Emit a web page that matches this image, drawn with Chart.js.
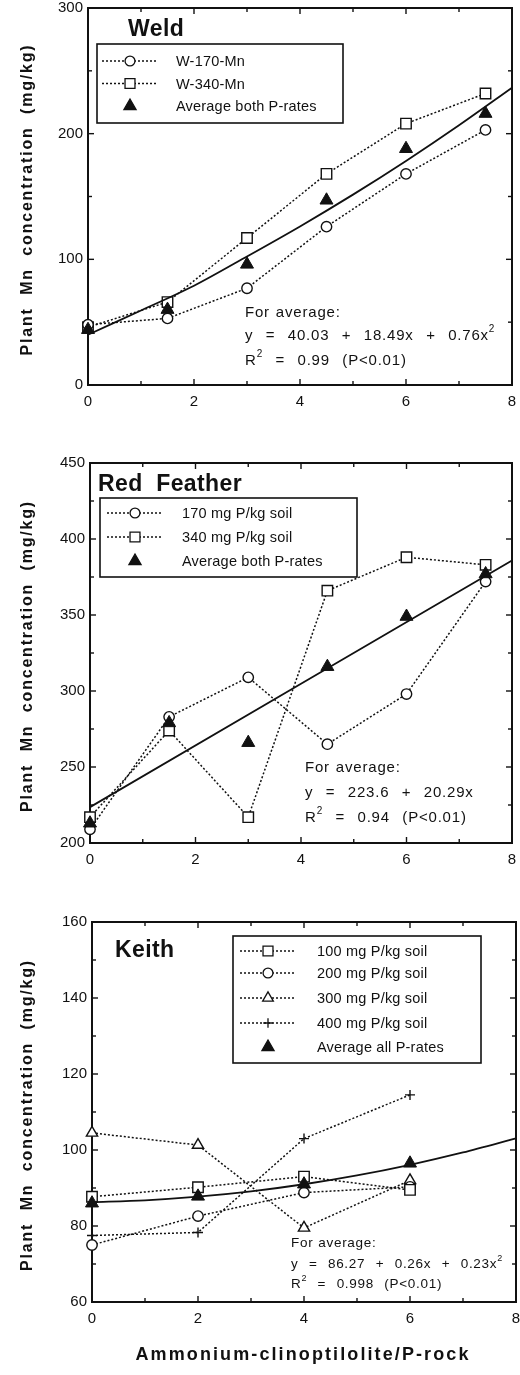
<!DOCTYPE html>
<html><head><meta charset="utf-8">
<script src="https://cdn.jsdelivr.net/npm/chart.js@4.4.1/dist/chart.umd.min.js"></script>
<style>
html,body{margin:0;padding:0;background:#fff;width:520px;height:1375px;overflow:hidden}
.wrap{position:absolute;left:0;width:520px}
</style></head><body>
<div class="wrap" style="top:0;height:425px"><canvas id="c1"></canvas></div>
<div class="wrap" style="top:430px;height:440px"><canvas id="c2"></canvas></div>
<div class="wrap" style="top:880px;height:495px"><canvas id="c3"></canvas></div>
<script>
// ---------- DATA ----------
// Weld
const weldX    = [0, 1.5, 3, 4.5, 6, 7.5];
const weld170  = [48, 53, 77, 126, 168, 203];
const weld340  = [46, 66, 117, 168, 208, 232];
const weldAvg  = [44, 60, 96, 147, 188, 216];
const weldFitX = [0, 1, 2, 3, 4, 5, 6, 7, 8];
const weldFitY = [40.0, 59.3, 79.0, 102.3, 126.2, 151.5, 178.3, 206.7, 236.6];
// Red Feather
const rfX    = [0, 1.5, 3, 4.5, 6, 7.5];
const rf170  = [209, 283, 309, 265, 298, 372];
const rf340  = [217, 274, 217, 366, 388, 383];
const rfAvg  = [213, 279, 266, 316, 349, 377];
const rfFitX = [0, 8];
const rfFitY = [223.6, 385.9];
// Keith
const kX    = [0, 2, 4, 6];
const k100  = [87.7, 90.2, 93.0, 89.5];
const k200  = [75.0, 82.6, 88.8, 90.3];
const k300  = [104.5, 101.3, 79.5, 92.0];
const k400  = [77.5, 78.3, 103.0, 114.5];
const kAvg  = [86.0, 87.8, 91.0, 96.5];
const kFitX = [0, 1, 2, 3, 4, 5, 6, 7, 8];
const kFitY = [86.27, 86.76, 87.71, 89.12, 90.99, 93.32, 96.11, 99.36, 103.07];
// tick labels / titles
const xTicks = [0, 2, 4, 6, 8];
const weldYTicks = [0, 100, 200, 300];
const rfYTicks = [200, 250, 300, 350, 400, 450];
const kYTicks = [60, 80, 100, 120, 140, 160];
const yTitle = 'Plant  Mn  concentration  (mg/kg)';
const xTitle = 'Ammonium-clinoptilolite/P-rock';

// ---------- STYLE / HELPERS ----------
const INK = '#111';
const FONT = '"Liberation Sans", Arial, sans-serif';
const pts = (xs, ys) => xs.map((x, i) => ({x, y: ys[i]}));

const MK = {
  circle: {pointStyle: 'circle', radius: 5.2, bg: '#fff'},
  square: {pointStyle: 'rect', radius: 7.4, bg: '#fff'},
  otri:   {pointStyle: 'triangle', radius: 6.5, bg: '#fff'},
  plus:   {pointStyle: 'cross', radius: 5, bg: '#fff'},
  ftri:   {pointStyle: 'triangle', radius: 7.5, bg: INK}
};

function dotted(label, xs, ys, mk) {
  const m = MK[mk];
  return {label, data: pts(xs, ys), showLine: true, borderColor: INK, borderWidth: 1.5,
    borderDash: [2, 2], pointStyle: m.pointStyle, pointRadius: m.radius,
    pointBackgroundColor: m.bg, pointBorderColor: INK, pointBorderWidth: 1.4,
    pointHoverRadius: m.radius, clip: false, order: 2};
}
function avgPts(label, xs, ys) {
  const m = MK.ftri;
  return {label, data: pts(xs, ys), showLine: false, pointStyle: m.pointStyle,
    pointRadius: m.radius, pointBackgroundColor: INK, pointBorderColor: INK,
    pointBorderWidth: 1, clip: false, order: 0};
}
function fit(xs, ys) {
  return {label: 'fit', data: pts(xs, ys), showLine: true, borderColor: INK, borderWidth: 1.8,
    pointRadius: 0, tension: 0.3, clip: false, order: 1};
}

function drawRich(ctx, x, y, parts, size) {
  let cx = x;
  for (const p of parts) {
    if (p.sup) {
      ctx.font = `${Math.round(size * 0.65)}px ${FONT}`;
      ctx.fillText(p.t, cx, y - size * 0.42);
    } else {
      ctx.font = `${size}px ${FONT}`;
      ctx.fillText(p.t, cx, y);
    }
    cx += ctx.measureText(p.t).width;
  }
}

const panelPlugin = {
  id: 'panel',
  beforeDatasetsDraw(chart, args, o) {
    const {ctx, chartArea: a, scales: {x, y}} = chart;
    ctx.save();
    ctx.strokeStyle = INK;
    ctx.lineWidth = 2;
    ctx.strokeRect(a.left, a.top, a.right - a.left, a.bottom - a.top);
    ctx.lineWidth = 1.4;
    const seg = (x1, y1, x2, y2) => { ctx.beginPath(); ctx.moveTo(x1, y1); ctx.lineTo(x2, y2); ctx.stroke(); };
    for (let v = x.min; v <= x.max + 1e-9; v += o.xMinor) {
      const px = x.getPixelForValue(v);
      const major = Math.abs(v / o.xMajor - Math.round(v / o.xMajor)) < 1e-6;
      const L = major ? 6 : 4;
      seg(px, a.bottom, px, a.bottom - L); seg(px, a.top, px, a.top + L);
    }
    for (let v = y.min; v <= y.max + 1e-9; v += o.yMinor) {
      const py = y.getPixelForValue(v);
      const major = Math.abs(v / o.yMajor - Math.round(v / o.yMajor)) < 1e-6;
      const L = major ? 6 : 4;
      seg(a.left, py, a.left + L, py); seg(a.right, py, a.right - L, py);
    }
    ctx.restore();
  },
  afterDraw(chart, args, o) {
    const {ctx, chartArea: a} = chart;
    ctx.save();
    ctx.fillStyle = INK; ctx.strokeStyle = INK;
    // y-axis title
    ctx.save();
    ctx.translate(28, (a.top + a.bottom) / 2 + 3);
    ctx.rotate(-Math.PI / 2);
    ctx.font = `bold 16px ${FONT}`;
    ctx.letterSpacing = '1.8px';
    ctx.textAlign = 'center'; ctx.textBaseline = 'middle';
    ctx.fillText(yTitle, 0, 0);
    ctx.restore();
    // panel title
    ctx.font = `bold 23px ${FONT}`;
    ctx.letterSpacing = '0.4px';
    ctx.textBaseline = 'middle'; ctx.textAlign = 'left';
    ctx.fillText(o.title, a.left + o.titleDx, a.top + o.titleDy);
    ctx.letterSpacing = '0px';
    // legend box
    const L = o.legend;
    ctx.lineWidth = 1.6;
    ctx.strokeRect(a.left + L.dx, a.top + L.dy, L.w, L.h);
    L.items.forEach((it, i) => {
      const ry = a.top + L.rows[i];
      const mx = a.left + L.dx + L.mx;
      const m = MK[it.mk];
      if (it.mk !== 'ftri') {
        ctx.save(); ctx.setLineDash([2, 2]); ctx.lineWidth = 1.3;
        ctx.beginPath(); ctx.moveTo(mx - 28, ry); ctx.lineTo(mx + 28, ry); ctx.stroke();
        ctx.restore();
      }
      ctx.save();
      ctx.fillStyle = m.bg; ctx.strokeStyle = INK; ctx.lineWidth = 1.3;
      Chart.helpers.drawPoint(ctx, {pointStyle: m.pointStyle, radius: it.mk === 'ftri' ? 7 : m.radius * 0.95, borderWidth: 1.3, rotation: 0}, mx, ry);
      ctx.restore();
      ctx.fillStyle = INK;
      ctx.font = `14.5px ${FONT}`; ctx.textBaseline = 'middle';
      ctx.letterSpacing = '0.2px';
      ctx.fillText(it.label, a.left + L.dx + L.tx, ry + 1);
      ctx.letterSpacing = '0px';
    });
    // annotation
    const N = o.note;
    ctx.textBaseline = 'middle'; ctx.letterSpacing = N.ls + 'px';
    N.lines.forEach((parts, i) => {
      ctx.wordSpacing = (i === 0 ? N.ws0 : N.ws) + 'px';
      drawRich(ctx, N.x, N.ys[i], parts, N.size);
    });
    ctx.letterSpacing = '0px'; ctx.wordSpacing = '0px';
    // x-axis title
    if (o.xTitle) {
      ctx.font = `bold 18px ${FONT}`;
      ctx.letterSpacing = '2.1px';
      ctx.textAlign = 'center';
      ctx.fillText(o.xTitle, o.xTitleX, o.xTitleY);
    }
    ctx.restore();
  }
};

function makeChart(id, g, datasets, yMin, yMax, yTickVals, panel) {
  const H = g.height;
  return new Chart(document.getElementById(id), {
    type: 'scatter',
    data: {datasets},
    plugins: [panelPlugin],
    options: {
      responsive: true, maintainAspectRatio: false, animation: false,
      layout: {autoPadding: false, padding: {top: g.top, right: 520 - g.right, left: 0, bottom: 0}},
      plugins: {legend: {display: false}, tooltip: {enabled: false}, panel},
      scales: {
        x: {type: 'linear', min: 0, max: 8,
          grid: {display: false, drawTicks: false}, border: {display: false},
          afterBuildTicks: s => { s.ticks = xTicks.map(v => ({value: v})); },
          afterFit: s => { s.height = H - g.bottom; s.paddingLeft = 0; s.paddingRight = 0; },
          ticks: {padding: g.xPad, color: INK, font: {family: FONT, size: 15}}},
        y: {type: 'linear', min: yMin, max: yMax,
          grid: {display: false, drawTicks: false}, border: {display: false},
          afterBuildTicks: s => { s.ticks = yTickVals.map(v => ({value: v})); },
          afterFit: s => { s.width = g.left; s.paddingTop = 0; s.paddingBottom = 0; },
          ticks: {padding: 5, color: INK, font: {family: FONT, size: 15}}}
      }
    }
  });
}

// ---------- Weld ----------
makeChart('c1', {height: 425, top: 8, bottom: 385, left: 88, right: 512, xPad: 8}, [
  dotted('W-170-Mn', weldX, weld170, 'circle'),
  dotted('W-340-Mn', weldX, weld340, 'square'),
  avgPts('Average both P-rates', weldX, weldAvg),
  fit(weldFitX, weldFitY)
], 0, 300, weldYTicks, {
  xMajor: 2, xMinor: 1, yMajor: 100, yMinor: 50,
  title: 'Weld', titleDx: 40, titleDy: 22,
  legend: {dx: 9, dy: 36, w: 246, h: 79, mx: 33, tx: 79, rows: [53, 75.5, 98],
    items: [{mk: 'circle', label: 'W-170-Mn'}, {mk: 'square', label: 'W-340-Mn'}, {mk: 'ftri', label: 'Average both P-rates'}]},
  note: {x: 245, ys: [313, 336, 361], size: 15, ls: 0.8, ws0: 1, ws: 7.5, lines: [
    [{t: 'For average:'}],
    [{t: 'y = 40.03 + 18.49x + 0.76x'}, {t: '2', sup: true}],
    [{t: 'R'}, {t: '2', sup: true}, {t: ' = 0.99 (P<0.01)'}]
  ]}
});

// ---------- Red Feather ----------
makeChart('c2', {height: 440, top: 33, bottom: 413, left: 90, right: 512, xPad: 8}, [
  dotted('170 mg P/kg soil', rfX, rf170, 'circle'),
  dotted('340 mg P/kg soil', rfX, rf340, 'square'),
  avgPts('Average both P-rates', rfX, rfAvg),
  fit(rfFitX, rfFitY)
], 200, 450, rfYTicks, {
  xMajor: 2, xMinor: 1, yMajor: 50, yMinor: 25,
  title: 'Red  Feather', titleDx: 8, titleDy: 22,
  legend: {dx: 10, dy: 35, w: 257, h: 79, mx: 35, tx: 82, rows: [50, 74, 98],
    items: [{mk: 'circle', label: '170 mg P/kg soil'}, {mk: 'square', label: '340 mg P/kg soil'}, {mk: 'ftri', label: 'Average both P-rates'}]},
  note: {x: 305, ys: [338, 363, 388], size: 15, ls: 0.8, ws0: 1, ws: 7.5, lines: [
    [{t: 'For average:'}],
    [{t: 'y = 223.6 + 20.29x'}],
    [{t: 'R'}, {t: '2', sup: true}, {t: ' = 0.94 (P<0.01)'}]
  ]}
});

// ---------- Keith ----------
makeChart('c3', {height: 495, top: 42, bottom: 422, left: 92, right: 516, xPad: 8}, [
  dotted('100 mg P/kg soil', kX, k100, 'square'),
  dotted('200 mg P/kg soil', kX, k200, 'circle'),
  dotted('300 mg P/kg soil', kX, k300, 'otri'),
  dotted('400 mg P/kg soil', kX, k400, 'plus'),
  avgPts('Average all P-rates', kX, kAvg),
  fit(kFitX, kFitY)
], 60, 160, kYTicks, {
  xMajor: 2, xMinor: 1, yMajor: 20, yMinor: 10,
  title: 'Keith', titleDx: 23, titleDy: 29,
  legend: {dx: 141, dy: 14, w: 248, h: 127, mx: 35, tx: 84, rows: [29, 51, 76, 101, 125],
    items: [{mk: 'square', label: '100 mg P/kg soil'}, {mk: 'circle', label: '200 mg P/kg soil'}, {mk: 'otri', label: '300 mg P/kg soil'}, {mk: 'plus', label: '400 mg P/kg soil'}, {mk: 'ftri', label: 'Average all P-rates'}]},
  note: {x: 291, ys: [363, 384, 404], size: 13.5, ls: 0.7, ws0: 0.5, ws: 6, lines: [
    [{t: 'For average:'}],
    [{t: 'y = 86.27 + 0.26x + 0.23x'}, {t: '2', sup: true}],
    [{t: 'R'}, {t: '2', sup: true}, {t: ' = 0.998 (P<0.01)'}]
  ]},
  xTitle: xTitle, xTitleX: 303, xTitleY: 475
});
</script>
</body></html>
